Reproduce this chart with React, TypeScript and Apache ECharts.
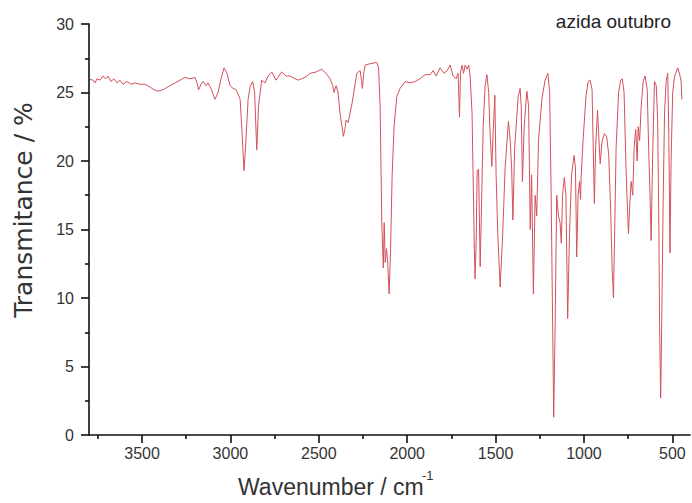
import React, { useEffect, useRef } from "react";
import * as echarts from "echarts";

// Wavenumber (cm^-1) of each sampled point, high to low
const wavenumbers = [
  3794, 3777, 3766, 3755, 3738, 3721, 3704, 3692, 3676, 3659, 3642, 3625, 3608, 3585, 3562, 3540, 3511, 3483, 3455, 3432,
  3409, 3381, 3342, 3313, 3285, 3257, 3228, 3200, 3189, 3180, 3166, 3155, 3138, 3127, 3110, 3087, 3070, 3053, 3036, 3019,
  3002, 2985, 2968, 2957, 2945, 2934, 2923, 2912, 2900, 2889, 2874, 2863, 2851, 2841, 2823, 2804, 2787, 2766, 2742, 2710,
  2685, 2663, 2617, 2578, 2549, 2515, 2483, 2459, 2436, 2421, 2414, 2402, 2391, 2380, 2361, 2351, 2346, 2334, 2312, 2285,
  2266, 2258, 2253, 2247, 2238, 2210, 2172, 2162, 2153, 2144, 2135, 2130, 2124, 2117, 2111, 2102, 2094, 2085, 2074, 2059,
  2040, 2012, 1983, 1955, 1927, 1899, 1870, 1853, 1836, 1814, 1791, 1774, 1757, 1740, 1723, 1712, 1704, 1698, 1689, 1681,
  1672, 1661, 1652, 1644, 1633, 1620, 1616, 1610, 1604, 1596, 1587, 1579, 1570, 1559, 1549, 1539, 1531, 1521, 1514, 1504,
  1497, 1487, 1474, 1460, 1446, 1427, 1417, 1409, 1402, 1392, 1380, 1372, 1361, 1355, 1348, 1338, 1323, 1313, 1304, 1296,
  1286, 1276, 1267, 1257, 1238, 1220, 1204, 1194, 1186, 1177, 1171, 1163, 1154, 1144, 1135, 1128, 1121, 1111, 1102, 1092,
  1082, 1070, 1056, 1048, 1041, 1033, 1025, 1019, 1016, 1005, 988, 976, 965, 954, 941, 934, 923, 917, 908, 897,
  884, 872, 860, 849, 840, 833, 826, 818, 804, 792, 783, 773, 762, 754, 748, 740, 733, 724, 716, 707,
  699, 693, 685, 676, 665, 654, 642, 634, 625, 620, 612, 601, 591, 583, 576, 572, 566, 561, 552, 544,
  535, 526, 520, 513, 507, 498, 487, 469, 462, 456, 450, 446,
];

// Transmittance (%) at each wavenumber above
const transmittance = [
  25.96, 25.9, 25.7, 26.0, 25.9, 26.2, 26.0, 26.2, 25.8, 26.0, 25.7, 25.9, 25.6, 25.8, 25.6, 25.7, 25.6, 25.6, 25.4, 25.2,
  25.1, 25.2, 25.5, 25.7, 25.9, 26.1, 26.0, 26.1, 25.7, 25.2, 25.6, 25.8, 25.5, 25.7, 25.3, 24.5, 25.0, 26.0, 26.8, 26.4,
  25.5, 25.3, 25.2, 24.9, 24.5, 22.0, 19.3, 21.5, 24.5, 25.4, 25.8, 25.0, 20.8, 24.0, 25.9, 25.7, 26.2, 26.5, 25.9, 26.5,
  26.2, 26.2, 25.9, 26.1, 26.4, 26.5, 26.7, 26.4, 26.0, 25.5, 25.0, 25.5, 25.0, 23.5, 21.8, 22.4, 23.0, 22.8, 24.2, 26.4,
  26.6, 25.8, 25.3, 26.3, 27.0, 27.1, 27.2, 26.8, 24.0, 15.7, 12.2, 15.5, 12.6, 13.6, 12.8, 10.3, 13.5, 19.0, 22.5, 24.7,
  25.3, 25.8, 25.7, 25.8, 26.0, 26.3, 26.3, 26.6, 26.2, 26.8, 26.4, 26.6, 27.0, 26.2, 26.0, 26.4, 23.2, 26.5, 27.0, 26.4,
  27.0, 26.7, 27.0, 26.2, 23.5, 13.5, 11.4, 14.0, 19.3, 19.4, 12.3, 17.0, 22.5, 25.5, 26.3, 25.0, 22.0, 19.6, 22.0, 24.8,
  19.0, 14.5, 10.8, 14.5, 19.5, 22.9, 21.5, 19.5, 15.7, 21.0, 23.2, 24.7, 25.3, 24.0, 18.5, 22.5, 25.1, 24.0, 15.0, 19.0,
  10.3, 17.5, 16.0, 21.5, 24.5, 25.9, 26.4, 25.0, 18.0, 8.0, 1.3, 8.0, 17.5, 16.0, 15.5, 14.0, 17.5, 18.8, 17.5, 8.5,
  14.5, 19.0, 20.4, 19.5, 13.0, 17.5, 18.5, 17.2, 18.8, 21.5, 24.8, 25.8, 25.9, 25.2, 16.9, 21.0, 23.7, 22.0, 19.8, 21.5,
  22.0, 21.8, 20.5, 16.5, 12.0, 10.0, 15.0, 21.0, 25.0, 25.9, 26.0, 25.0, 19.5, 16.5, 14.7, 17.0, 18.5, 17.5, 21.0, 22.3,
  20.0, 22.5, 21.5, 24.0, 25.8, 26.2, 25.2, 21.0, 17.0, 14.2, 20.0, 25.8, 25.5, 23.0, 15.0, 8.0, 2.7, 7.0, 17.0, 23.5,
  25.8, 26.4, 22.0, 13.3, 20.0, 25.0, 26.2, 26.8, 26.5, 26.2, 25.8, 24.5,
];

const xLabelValues = [500, 1000, 1500, 2000, 2500, 3000, 3500];
const xMinorTickValues = [750, 1250, 1750, 2250, 2750, 3250, 3750];

const xTitle = "Wavenumber / cm";
const xTitleSup = "-1";
const yTitle = "Transmitance / %";
const annotation = "azida outubro";

export default function App() {
  const ref = useRef<HTMLDivElement>(null);

  useEffect(() => {
    if (!ref.current) return;
    const chart = echarts.init(ref.current, undefined, { renderer: "svg" });
    const data = wavenumbers.map((w, i) => [w, transmittance[i]]);
    const font = "Liberation Sans, Arial, sans-serif";
    chart.setOption({
      animation: false,
      backgroundColor: "#ffffff",
      grid: { left: 89, right: 2, top: 24, bottom: 68, containLabel: false },
      xAxis: [
        {
          type: "value",
          min: 400,
          max: 3800,
          inverse: true,
          position: "bottom",
          axisLine: { show: true, onZero: false, lineStyle: { color: "#111", width: 1.6 } },
          axisTick: {
            show: true,
            inside: false,
            length: 8,
            customValues: xLabelValues,
            lineStyle: { color: "#111", width: 1.6 },
          },
          axisLabel: {
            show: true,
            customValues: xLabelValues,
            formatter: (v: number) => String(v),
            fontSize: 16,
            color: "#333",
            fontFamily: font,
            margin: 10,
          },
          splitLine: { show: false },
        },
        {
          type: "value",
          min: 400,
          max: 3800,
          inverse: true,
          position: "bottom",
          gridIndex: 0,
          axisLine: { show: false },
          axisTick: {
            show: true,
            inside: false,
            length: 4,
            customValues: xMinorTickValues,
            lineStyle: { color: "#111", width: 1.6 },
          },
          axisLabel: { show: false },
          splitLine: { show: false },
        },
      ],
      yAxis: {
        type: "value",
        min: 0,
        max: 30,
        interval: 5,
        axisLine: { show: true, onZero: false, lineStyle: { color: "#111", width: 1.6 } },
        axisTick: { show: true, inside: false, length: 8, lineStyle: { color: "#111", width: 1.6 } },
        minorTick: { show: true, splitNumber: 2, length: 4, lineStyle: { color: "#111", width: 1.6 } },
        axisLabel: { fontSize: 16, color: "#333", fontFamily: font, margin: 15 },
        splitLine: { show: false },
        minorSplitLine: { show: false },
      },
      series: [
        {
          type: "line",
          xAxisIndex: 0,
          data,
          showSymbol: false,
          symbol: "none",
          lineStyle: { color: "#d4505b", width: 1 },
          silent: true,
        },
      ],
      graphic: [
        {
          type: "text",
          x: 23,
          y: 210,
          rotation: Math.PI / 2,
          style: {
            text: yTitle,
            fontSize: 25,
            fontFamily: "DejaVu Sans, sans-serif",
            fill: "#333",
            align: "center",
            verticalAlign: "middle",
          },
        },
        {
          type: "text",
          x: 238,
          y: 487,
          style: {
            text: xTitle,
            fontSize: 23,
            fontFamily: font,
            fill: "#333",
            align: "left",
            verticalAlign: "middle",
          },
        },
        {
          type: "text",
          x: 422,
          y: 475,
          style: {
            text: xTitleSup,
            fontSize: 13,
            fontFamily: font,
            fill: "#333",
            align: "left",
            verticalAlign: "middle",
          },
        },
        {
          type: "text",
          x: 671,
          y: 21,
          style: {
            text: annotation,
            fontSize: 19,
            fontFamily: font,
            fill: "#222",
            align: "right",
            verticalAlign: "middle",
          },
        },
      ],
    });
    return () => chart.dispose();
  }, []);

  return (
    <div
      ref={ref}
      style={{ position: "fixed", left: 0, top: 0, width: 692, height: 503, background: "#fff" }}
    />
  );
}
